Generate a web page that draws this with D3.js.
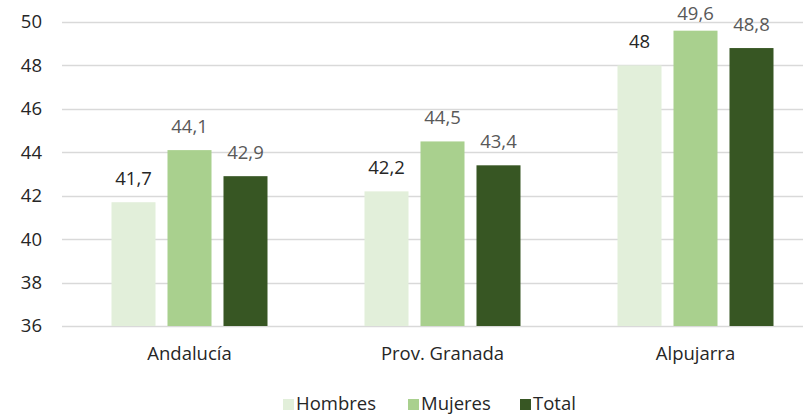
<!DOCTYPE html>
<html>
<head>
<meta charset="utf-8">
<title>Edad media</title>
<script src="https://d3js.org/d3.v7.min.js"></script>
<style>
  body { margin: 0; background: #fff; }
  text { font-family: "Open Sans", "Noto Sans", sans-serif; }
</style>
</head>
<body>
<svg id="chart" width="803" height="416"></svg>
<script>
// chart data
var categories = ["Andalucía", "Prov. Granada", "Alpujarra"];
var series = ["Hombres", "Mujeres", "Total"];
var hombres = [41.7, 42.2, 48];
var mujeres = [44.1, 44.5, 49.6];
var total = [42.9, 43.4, 48.8];
var yTicks = [36, 38, 40, 42, 44, 46, 48, 50];

var values = { Hombres: hombres, Mujeres: mujeres, Total: total };
var colors = { Hombres: "#e2efda", Mujeres: "#a9d08e", Total: "#375623" };
var labelColors = { Hombres: "#262626", Mujeres: "#595959", Total: "#595959" };

var fontSize = "18.5px";
var svg = d3.select("#chart");

// plot area (right side is cut off in the original)
var plotLeft = 63, plotRight = 822, plotTop = 22, plotBottom = 326;

var y = d3.scaleLinear().domain([36, 50]).range([plotBottom, plotTop]);

var x0 = d3.scaleBand().domain(categories).range([plotLeft, plotRight]);
var groupW = 156;
var x1 = d3.scaleBand().domain(series).range([0, groupW]).paddingInner(0.214);

// gridlines
svg.append("g")
  .selectAll("line")
  .data(yTicks)
  .enter().append("line")
  .attr("x1", plotLeft - 1)
  .attr("x2", 803)
  .attr("y1", function(d) { return Math.round(y(d)) + 0.5; })
  .attr("y2", function(d) { return Math.round(y(d)) + 0.5; })
  .attr("stroke", "#d9d9d9")
  .attr("stroke-width", 1.3);

// y axis labels
var yAxis = d3.axisLeft(y).tickValues(yTicks).tickSize(0).tickPadding(0);
var gy = svg.append("g").attr("transform", "translate(42,0)").call(yAxis);
gy.select(".domain").remove();
gy.selectAll("text")
  .attr("font-size", fontSize)
  .attr("fill", "#262626")
  .attr("font-family", "\"Open Sans\", sans-serif");

// bars
var groups = svg.append("g")
  .selectAll("g")
  .data(categories)
  .enter().append("g")
  .attr("transform", function(d) {
    return "translate(" + (x0(d) + (x0.bandwidth() - groupW) / 2) + ",0)";
  });

groups.selectAll("rect")
  .data(function(c, i) {
    return series.map(function(s) { return { s: s, v: values[s][i] }; });
  })
  .enter().append("rect")
  .attr("x", function(d) { return x1(d.s); })
  .attr("width", x1.bandwidth())
  .attr("y", function(d) { return y(d.v); })
  .attr("height", function(d) { return plotBottom - y(d.v); })
  .attr("fill", function(d) { return colors[d.s]; });

// value labels (kept inside the chart area like Excel does)
groups.selectAll("text.val")
  .data(function(c, i) {
    return series.map(function(s) { return { s: s, v: values[s][i] }; });
  })
  .enter().append("text")
  .attr("class", "val")
  .attr("x", function(d) { return x1(d.s) + x1.bandwidth() / 2; })
  .attr("y", function(d) { return Math.max(y(d.v) - 17, 20); })
  .attr("text-anchor", "middle")
  .attr("font-size", fontSize)
  .attr("fill", function(d) { return labelColors[d.s]; })
  .text(function(d) { return String(d.v).replace(".", ","); });

// category labels
var xAxis = d3.axisBottom(x0).tickSize(0).tickPadding(0);
var gx = svg.append("g").attr("transform", "translate(0," + (plotBottom + 21) + ")").call(xAxis);
gx.select(".domain").remove();
gx.selectAll("text")
  .attr("font-size", fontSize)
  .attr("fill", "#262626")
  .attr("dy", "0.71em")
  .attr("font-family", "\"Open Sans\", sans-serif");

// legend
var legendX = [283, 408, 520];
var legend = svg.append("g")
  .selectAll("g")
  .data(series)
  .enter().append("g")
  .attr("transform", function(d, i) { return "translate(" + legendX[i] + ",399)"; });

legend.append("rect")
  .attr("width", 11)
  .attr("height", 11)
  .attr("fill", function(d) { return colors[d]; });

legend.append("text")
  .attr("x", 13)
  .attr("y", 11)
  .attr("font-size", fontSize)
  .attr("fill", "#262626")
  .text(function(d) { return d; });
</script>
</body>
</html>
